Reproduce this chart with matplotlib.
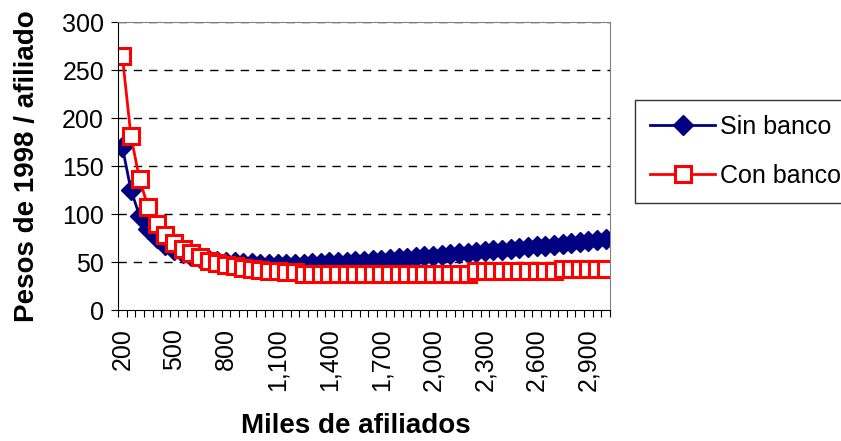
import numpy as np
import matplotlib
matplotlib.use("Agg")
import matplotlib.pyplot as plt

plt.rcParams['font.family'] = ['Liberation Sans', 'DejaVu Sans']

# miles de afiliados (eje de categorías, cada 50)
afiliados = list(range(200, 3001, 50))

sin_banco = [170, 125, 98, 84, 75, 68, 63, 59, 56, 54,
             52, 51, 50, 49.5, 49, 48.5, 48, 48, 48, 48,
             48, 48, 48.5, 49, 49.5, 50, 50.5, 51, 51.5, 52,
             52.5, 53, 54, 54.5, 55, 56, 56.5, 57.5, 58, 59,
             59.5, 60.5, 61, 62, 63, 64, 64.5, 65.5, 66.5, 67,
             68, 69, 70, 71, 72, 73, 74]

con_banco = [265, 181, 136, 107, 90, 78, 70, 64, 59, 55,
             51, 49, 47, 46, 44, 43, 42, 41, 41, 40,
             40, 38, 38, 38, 38, 38, 38, 38, 38, 38,
             38, 38, 38, 38, 38, 38, 38, 38, 38, 38,
             38, 40.5, 40.5, 40.5, 40.5, 40.5, 40.5, 40.5, 40.5, 40.5,
             40.5, 43, 43, 43, 43, 43, 43]

y_ticks = [0, 50, 100, 150, 200, 250, 300]

W, H = 841, 441
fig = plt.figure(figsize=(W / 100, H / 100), dpi=100)
left, right, top, bottom = 118, 610, 22, 310
ax = fig.add_axes([left / W, 1 - bottom / H, (right - left) / W, (bottom - top) / H])

idx = np.arange(len(afiliados))
ax.plot(idx, sin_banco, color='#000080', lw=2, marker='D', markersize=10,
        markerfacecolor='#000080', markeredgecolor='#000080', label='Sin banco')
ax.plot(idx, con_banco, color='#ff0000', lw=2, marker='s', markersize=12,
        markerfacecolor='white', markeredgecolor='#ff0000', markeredgewidth=2.2,
        label='Con banco')

ax.set_xlim(-0.5, len(afiliados) - 0.5)
ax.set_ylim(0, 300)

# gridlines
for v in y_ticks[1:]:
    ax.axhline(v, color='black', lw=1, ls=(0, (6, 5)), zorder=0)

ax.set_yticks(y_ticks)
ax.tick_params(axis='y', direction='out', length=5, pad=5, labelsize=18)

# ticks between categories, labels every 6 categories
ax.set_xticks(np.arange(-0.5, len(afiliados)), [])
ax.tick_params(axis='x', which='major', direction='out', length=5)
lab_idx = idx[::6]
ax.set_xticks(lab_idx, [f"{afiliados[i]:,}" for i in lab_idx], minor=True)
ax.tick_params(axis='x', which='minor', length=0, pad=13, labelsize=18,
               labelrotation=90)

for s in ['top', 'right']:
    ax.spines[s].set_color('#808080')
for s in ['left', 'bottom']:
    ax.spines[s].set_color('black')

fig.text(27 / W, 1 - 166 / H, 'Pesos de 1998 / afiliado', rotation=90,
         ha='center', va='center', fontsize=20, fontweight='bold')
fig.text(356 / W, 1 - 426 / H, 'Miles de afiliados', ha='center', va='center',
         fontsize=20, fontweight='bold')

leg = fig.legend(loc='upper left', bbox_to_anchor=(635 / W, 1 - 100 / H),
                 fontsize=18, frameon=True, fancybox=False, edgecolor='black',
                 handlelength=2.6, handletextpad=0.2, labelspacing=1.0,
                 borderpad=0.6, borderaxespad=0)
leg.get_frame().set_linewidth(1)

fig.savefig('out.png', dpi=100)
